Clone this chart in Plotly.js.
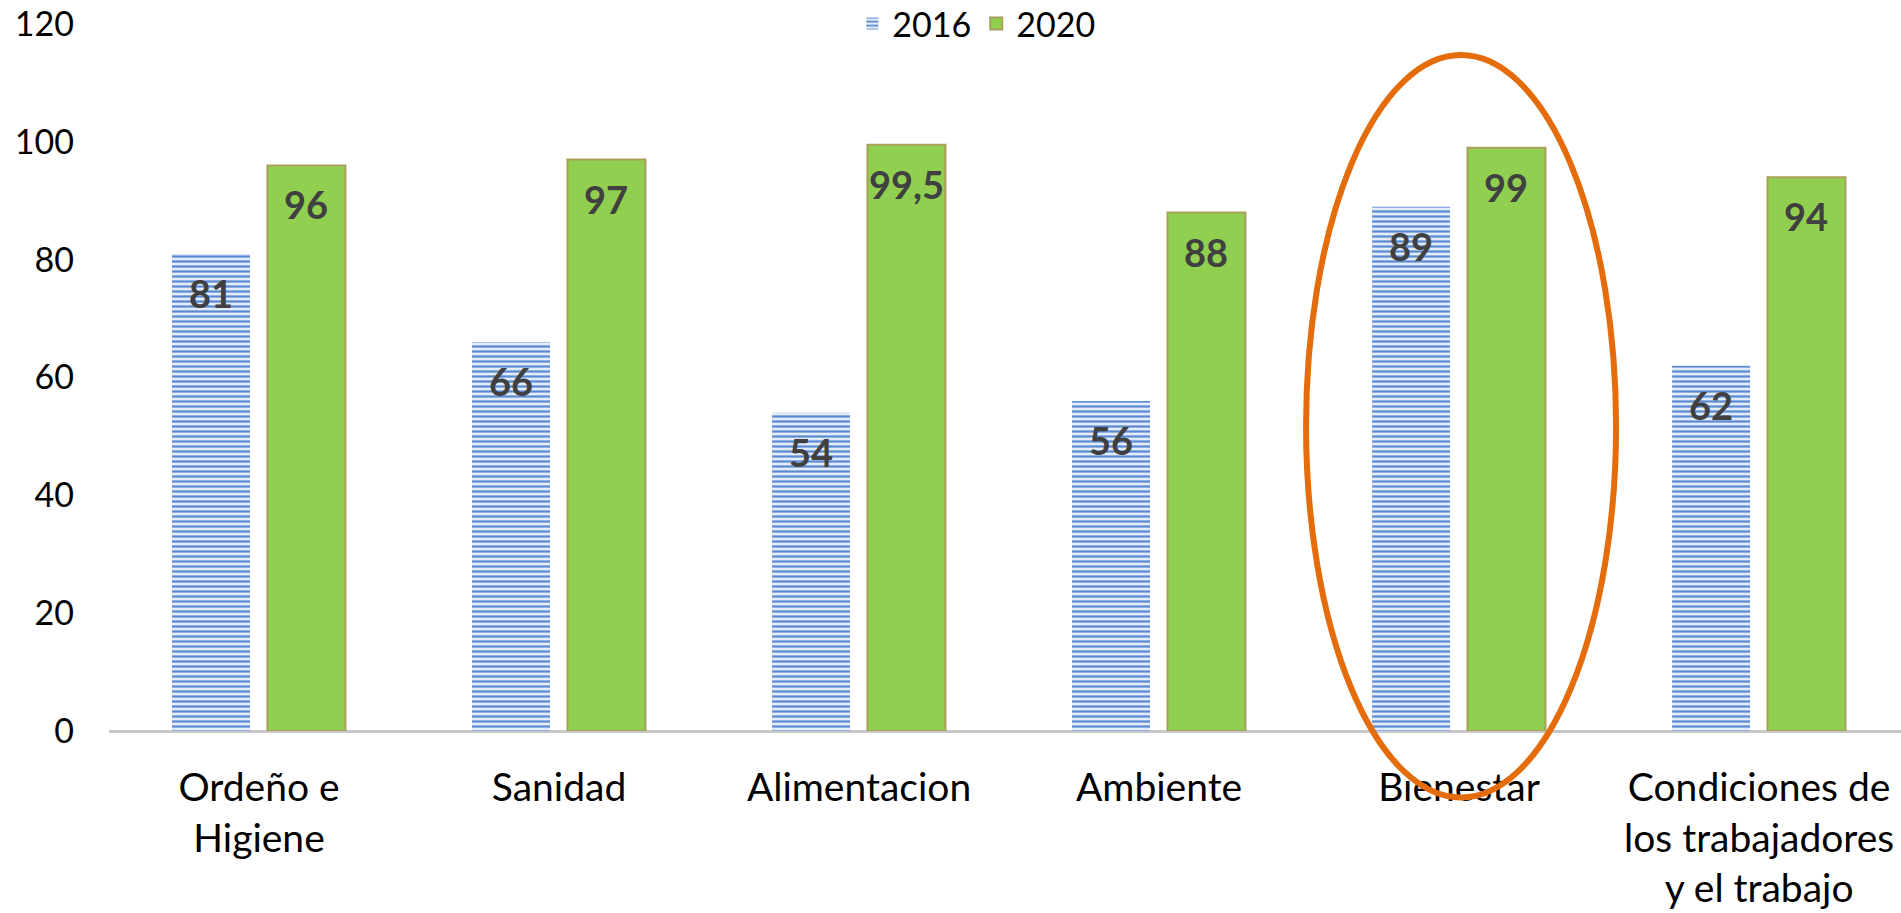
<!DOCTYPE html>
<html>
<head>
<meta charset="utf-8">
<script src="https://cdn.plot.ly/plotly-3.0.1.min.js"></script>
<style>
  html, body { margin: 0; padding: 0; background: #fff; }
  #chart { width: 1901px; height: 913px; }
</style>
</head>
<body>
<div id="chart"></div>
<script>
const categories = ['Ordeño e<br>Higiene', 'Sanidad', 'Alimentacion', 'Ambiente', 'Bienestar',
                    'Condiciones de<br>los trabajadores<br>y el trabajo'];
const values2016 = [81, 66, 54, 56, 89, 62];
const values2020 = [96, 97, 99.5, 88, 99, 94];
const labels2016 = ['81', '66', '54', '56', '89', '62'];
const labels2020 = ['96', '97', '99,5', '88', '99', '94'];
const yTicks = [0, 20, 40, 60, 80, 100, 120];

const FONT = 'Lato, "Open Sans", sans-serif';
const BAR_W = 0.26;
const OFF_2016 = -0.29;
const OFF_2020 = 0.028;

const trace2016 = {
    type: 'bar',
    name: '2016',
    x: categories,
    y: values2016,
    width: BAR_W,
    offset: OFF_2016,
    marker: {
        color: '#dce7f5',
        line: { width: 0 },
        pattern: { shape: '-', fgcolor: '#5a8bd0', bgcolor: '#e3ecf8', size: 5, solidity: 0.45 }
    },
    hoverinfo: 'skip'
};

const trace2020 = {
    type: 'bar',
    name: '2020',
    x: categories,
    y: values2020,
    width: BAR_W,
    offset: OFF_2020,
    marker: {
        color: '#90cf50',
        line: { color: '#a8a05a', width: 2 }
    },
    hoverinfo: 'skip'
};

// data labels sit inside the top of each bar
const annotations = [];
values2016.forEach((v, i) => {
    annotations.push({
        x: i + OFF_2016 + BAR_W / 2, y: v, xref: 'x', yref: 'y',
        text: '<b>' + labels2016[i] + '</b>', showarrow: false,
        yanchor: 'middle', yshift: -39,
        font: { family: FONT, size: 38, color: '#404040' }
    });
});
values2020.forEach((v, i) => {
    annotations.push({
        x: i + OFF_2020 + BAR_W / 2, y: v, xref: 'x', yref: 'y',
        text: '<b>' + labels2020[i] + '</b>', showarrow: false,
        yanchor: 'middle', yshift: -39,
        font: { family: FONT, size: 38, color: '#404040' }
    });
});

const layout = {
    width: 1901,
    height: 913,
    margin: { l: 109, r: 0, t: 24, b: 182, autoexpand: false },
    paper_bgcolor: '#ffffff',
    plot_bgcolor: '#ffffff',
    font: { family: FONT, color: '#000000' },
    showlegend: true,
    legend: {
        orientation: 'h',
        x: 0.484, xanchor: 'center',
        y: 1.0, yanchor: 'middle',
        font: { family: FONT, size: 34, color: '#000000' },
        itemwidth: 30,
        bgcolor: 'rgba(0,0,0,0)'
    },
    xaxis: {
        type: 'category',
        range: [-0.5, 5.473],
        showgrid: false,
        zeroline: false,
        showline: false,
        ticks: '',
        ticklabelstandoff: 30,
        tickfont: { family: FONT, size: 39, color: '#000000' }
    },
    yaxis: {
        range: [0, 120],
        tickvals: yTicks,
        showgrid: false,
        zeroline: true,
        zerolinecolor: '#c8c8c8',
        zerolinewidth: 3,
        showline: false,
        ticks: '',
        ticklabelstandoff: 34,
        tickfont: { family: FONT, size: 34, color: '#000000' }
    },
    bargap: 0.37,
    annotations: annotations,
    shapes: [{
        type: 'circle',
        xref: 'paper', yref: 'paper',
        x0: 0.668, x1: 0.841,
        y0: -0.094, y1: 0.956,
        line: { color: '#e46c0a', width: 6 },
        fillcolor: 'rgba(0,0,0,0)',
        layer: 'above'
    }]
};

Plotly.newPlot('chart', [trace2016, trace2020], layout, { displayModeBar: false, staticPlot: true });
</script>
</body>
</html>
